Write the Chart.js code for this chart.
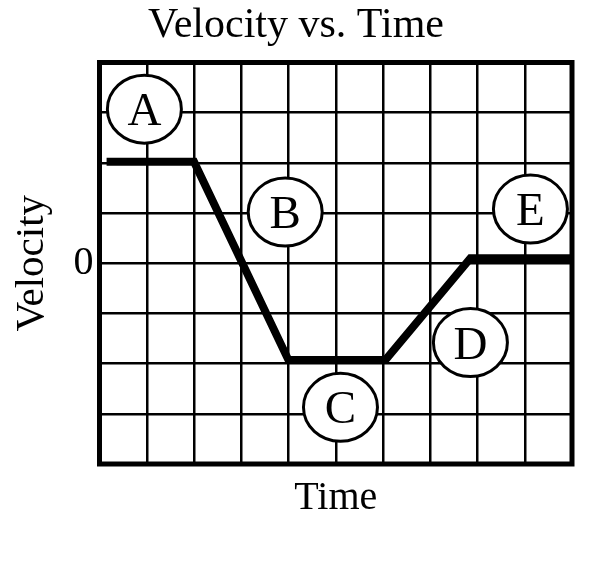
<!DOCTYPE html>
<html>
<head>
<meta charset="utf-8">
<script src="https://cdn.jsdelivr.net/npm/chart.js@4/dist/chart.umd.min.js"></script>
<style>
html,body{margin:0;padding:0;background:#fff;}
canvas{display:block;}
</style>
</head>
<body>
<canvas id="c" width="592" height="562"></canvas>
<script>
// Data
const timeValues = [0.15, 2, 4, 6.05, 7.85, 10];
const velocityValues = [2.02, 2.02, -1.93, -1.93, 0.1, 0.1];
const labelLetters = ['A', 'B', 'C', 'D', 'E'];
const labelX = [0.95, 3.93, 5.1, 7.85, 9.12];
const labelY = [3.07, 1.02, -2.87, -1.58, 1.08];
const yTickLabels = {0: '0'};
const chartTitle = 'Velocity vs. Time';
const xTitle = 'Time';
const yTitle = 'Velocity';

const points = timeValues.map((t, i) => ({x: t, y: velocityValues[i]}));
const SERIF = '"Liberation Serif", "DejaVu Serif", serif';

const labelPlugin = {
  id: 'labels',
  afterDatasetsDraw(chart) {
    const {ctx, scales: {x, y}} = chart;
    ctx.save();
    labelLetters.forEach((L, i) => {
      const cx = x.getPixelForValue(labelX[i]);
      const cy = y.getPixelForValue(labelY[i]);
      ctx.beginPath();
      ctx.ellipse(cx, cy, 37, 34, 0, 0, Math.PI * 2);
      ctx.fillStyle = '#fff';
      ctx.fill();
      ctx.lineWidth = 3;
      ctx.strokeStyle = '#000';
      ctx.stroke();
      ctx.fillStyle = '#000';
      ctx.font = '47px ' + SERIF;
      ctx.textAlign = 'center';
      ctx.textBaseline = 'alphabetic';
      ctx.fillText(L, cx, cy + 16);
    });
    ctx.restore();
  },
  afterDraw(chart) {
    const {ctx, chartArea: a} = chart;
    ctx.save();
    ctx.lineWidth = 5;
    ctx.strokeStyle = '#000';
    ctx.strokeRect(a.left, a.top, a.right - a.left, a.bottom - a.top);
    ctx.restore();
  }
};

new Chart(document.getElementById('c'), {
  type: 'scatter',
  data: {
    datasets: [{
      data: points,
      showLine: true,
      borderColor: '#000',
      borderWidth: 8,
      pointRadius: 0,
      tension: 0,
      borderJoinStyle: 'miter',
      borderCapStyle: 'butt'
    }]
  },
  options: {
    responsive: false,
    animation: false,
    devicePixelRatio: 1,
    layout: {padding: 0},
    plugins: {
      legend: {display: false},
      tooltip: {enabled: false},
      title: {
        display: true,
        text: chartTitle,
        color: '#000',
        font: {family: SERIF, size: 42, weight: 'normal', lineHeight: 1.0},
        padding: {top: 5, bottom: 15.5}
      }
    },
    scales: {
      x: {
        type: 'linear',
        min: 0, max: 10,
        ticks: {stepSize: 1, display: false, autoSkip: false},
        grid: {color: '#000', lineWidth: 2.5, drawTicks: false},
        border: {display: false},
        title: {
          display: true, text: xTitle, color: '#000',
          font: {family: SERIF, size: 40, lineHeight: 1.2},
          padding: {top: 0, bottom: 40}
        },
        afterFit(s) { s.height = 98; }
      },
      y: {
        type: 'linear',
        min: -4, max: 4,
        ticks: {
          stepSize: 1, color: '#000', padding: 6, autoSkip: false,
          font: {family: SERIF, size: 40},
          callback: v => (yTickLabels[v] !== undefined ? yTickLabels[v] : '')
        },
        grid: {color: '#000', lineWidth: 2.5, drawTicks: false},
        border: {display: false},
        title: {
          display: true, text: yTitle, color: '#000',
          font: {family: SERIF, size: 41, lineHeight: 1.2},
          padding: {top: 8, bottom: 0}
        },
        afterFit(s) { s.width = 99.5; }
      },
      yRight: {
        type: 'linear',
        position: 'right',
        min: -4, max: 4,
        ticks: {display: false},
        grid: {display: false, drawTicks: false},
        border: {display: false},
        afterFit(s) { s.width = 20; }
      }
    }
  },
  plugins: [labelPlugin]
});
</script>
</body>
</html>
